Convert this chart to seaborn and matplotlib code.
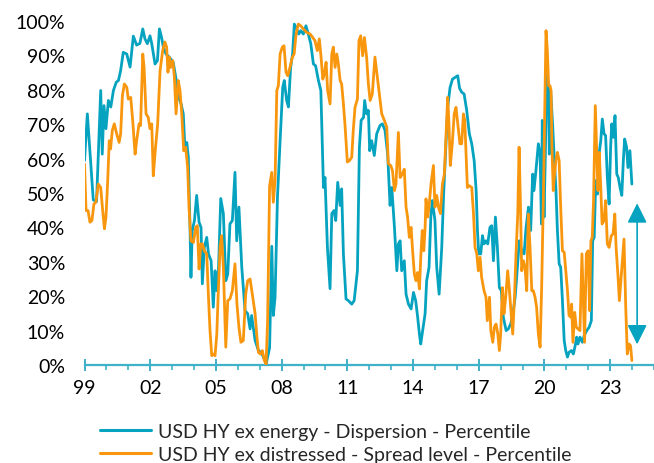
import numpy as np
import pandas as pd
import matplotlib
matplotlib.use('Agg')
import matplotlib.pyplot as plt
import seaborn as sns
from matplotlib.lines import Line2D
from matplotlib.ticker import FixedLocator, FuncFormatter

## Du lieu doc tu hinh (nam thap phan, phan tram)
disp_year = [1999.00, 1999.13, 1999.40, 1999.55, 1999.74, 1999.81, 1999.89, 1999.98, 2000.09, 2000.20,
             2000.32, 2000.45, 2000.55, 2000.65, 2000.77, 2000.93, 2001.08, 2001.23, 2001.38, 2001.53,
             2001.66, 2001.76, 2001.87, 2001.99, 2002.07, 2002.22, 2002.33, 2002.42, 2002.52, 2002.60,
             2002.72, 2002.87, 2003.05, 2003.21, 2003.30, 2003.41, 2003.51, 2003.59, 2003.67, 2003.74,
             2003.82, 2003.86, 2003.92, 2004.02, 2004.12, 2004.23, 2004.32, 2004.38, 2004.47, 2004.58,
             2004.66, 2004.78, 2004.88, 2004.96, 2005.03, 2005.11, 2005.22, 2005.34, 2005.45, 2005.54,
             2005.64, 2005.75, 2005.87, 2005.95, 2006.05, 2006.18, 2006.33, 2006.45, 2006.56, 2006.63,
             2006.79, 2006.94, 2007.06, 2007.17, 2007.30, 2007.45, 2007.55, 2007.62, 2007.70, 2007.81,
             2007.93, 2008.05, 2008.12, 2008.23, 2008.31, 2008.41, 2008.50, 2008.58, 2008.69, 2008.78,
             2008.87, 2008.99, 2009.11, 2009.22, 2009.33, 2009.45, 2009.55, 2009.68, 2009.79, 2009.91,
             2009.98, 2010.09, 2010.21, 2010.29, 2010.39, 2010.47, 2010.56, 2010.67, 2010.74, 2010.82,
             2010.94, 2011.05, 2011.20, 2011.31, 2011.46, 2011.55, 2011.63, 2011.74, 2011.79, 2011.88,
             2011.96, 2012.02, 2012.11, 2012.23, 2012.34, 2012.49, 2012.60, 2012.72, 2012.84, 2012.95,
             2013.03, 2013.15, 2013.26, 2013.33, 2013.41, 2013.48, 2013.60, 2013.68, 2013.79, 2013.91,
             2014.02, 2014.12, 2014.21, 2014.29, 2014.35, 2014.44, 2014.55, 2014.62, 2014.73, 2014.81,
             2014.88, 2015.00, 2015.08, 2015.19, 2015.31, 2015.39, 2015.46, 2015.58, 2015.69, 2015.80,
             2015.92, 2016.04, 2016.12, 2016.22, 2016.33, 2016.45, 2016.57, 2016.68, 2016.79, 2016.88,
             2016.94, 2017.00, 2017.09, 2017.17, 2017.24, 2017.33, 2017.41, 2017.51, 2017.59, 2017.67,
             2017.76, 2017.85, 2017.94, 2018.03, 2018.12, 2018.25, 2018.35, 2018.46, 2018.55, 2018.66,
             2018.73, 2018.85, 2018.96, 2019.07, 2019.16, 2019.27, 2019.37, 2019.46, 2019.52, 2019.61,
             2019.72, 2019.80, 2019.86, 2019.90, 2019.98, 2020.04, 2020.10, 2020.18, 2020.22, 2020.28,
             2020.37, 2020.45, 2020.52, 2020.59, 2020.67, 2020.74, 2020.82, 2020.90, 2020.97, 2021.05,
             2021.12, 2021.23, 2021.32, 2021.40, 2021.47, 2021.53, 2021.62, 2021.73, 2021.81, 2021.93,
             2022.04, 2022.14, 2022.20, 2022.27, 2022.34, 2022.42, 2022.49, 2022.57, 2022.64, 2022.72,
             2022.79, 2022.87, 2022.95, 2023.02, 2023.07, 2023.15, 2023.22, 2023.30, 2023.37, 2023.45,
             2023.53, 2023.60, 2023.66, 2023.75, 2023.81, 2023.90, 2023.99]
disp_pct = [59.4, 73.0, 48.0, 47.5, 79.8, 61.3, 75.4, 68.7, 76.9, 75.0,
            79.8, 82.2, 82.7, 85.6, 90.9, 90.4, 86.6, 95.6, 93.0, 93.5,
            97.7, 94.8, 93.4, 95.7, 93.4, 87.5, 88.5, 97.7, 95.2, 92.4,
            90.4, 89.5, 88.0, 82.0, 77.8, 75.9, 73.0, 62.3, 64.7, 60.4,
            39.1, 25.5, 39.1, 42.0, 49.3, 41.5, 40.0, 23.6, 34.2, 37.1,
            32.3, 30.3, 16.8, 27.4, 21.6, 26.4, 48.4, 44.0, 24.5, 26.4,
            41.0, 42.0, 56.0, 36.1, 45.9, 28.4, 15.8, 14.9, 10.5, 14.4,
            7.1, 4.2, 3.7, 2.3, 0.5, 5.0, 34.5, 14.4, 19.7, 48.8,
            65.2, 80.7, 82.7, 76.9, 75.0, 86.5, 90.4, 99.1, 97.7, 96.2,
            97.2, 96.2, 98.6, 96.2, 93.4, 87.5, 87.0, 82.7, 79.8, 51.6,
            54.5, 34.2, 22.2, 44.0, 44.9, 42.0, 53.1, 46.4, 51.2, 32.3,
            19.2, 18.7, 17.7, 18.7, 27.4, 63.3, 71.1, 72.0, 76.9, 73.0,
            74.0, 62.3, 65.2, 60.9, 67.2, 69.6, 70.1, 68.2, 61.3, 46.4,
            51.6, 40.0, 27.4, 35.2, 36.1, 27.4, 30.3, 20.6, 17.7, 16.3,
            21.1, 18.7, 13.9, 9.0, 6.1, 10.0, 14.9, 24.5, 28.4, 43.0,
            47.8, 42.0, 28.4, 20.6, 34.2, 48.8, 58.5, 74.9, 80.7, 83.1,
            83.6, 84.1, 80.5, 79.3, 78.8, 74.0, 67.2, 64.3, 59.4, 50.7,
            39.1, 32.3, 32.3, 37.6, 35.2, 36.1, 35.2, 40.0, 40.5, 30.3,
            43.0, 34.2, 22.5, 21.6, 13.9, 10.0, 10.5, 12.0, 14.4, 19.7,
            25.5, 36.1, 33.2, 32.3, 40.0, 45.9, 39.1, 55.5, 50.7, 56.5,
            64.3, 61.3, 41.0, 71.1, 43.0, 61.3, 84.6, 81.7, 61.3, 79.8,
            70.1, 59.4, 51.6, 39.1, 29.4, 28.4, 18.7, 7.1, 4.2, 2.3,
            3.7, 4.2, 3.2, 5.6, 8.1, 6.1, 8.1, 6.6, 8.5, 10.0,
            11.0, 12.9, 36.1, 37.1, 53.6, 49.7, 61.3, 65.2, 71.5, 67.2,
            66.7, 54.5, 46.8, 63.3, 70.1, 66.2, 72.5, 55.5, 54.5, 51.6,
            49.3, 59.4, 65.7, 63.3, 57.4, 62.3, 52.6]

spread_year = [1999.00, 1999.07, 1999.16, 1999.25, 1999.34, 1999.43, 1999.52, 1999.63, 1999.74, 1999.83,
               1999.91, 1999.98, 2000.06, 2000.13, 2000.19, 2000.27, 2000.36, 2000.47, 2000.58, 2000.65,
               2000.73, 2000.82, 2000.93, 2001.00, 2001.11, 2001.20, 2001.31, 2001.38, 2001.49, 2001.56,
               2001.66, 2001.72, 2001.81, 2001.91, 2001.99, 2002.07, 2002.14, 2002.23, 2002.34, 2002.45,
               2002.57, 2002.67, 2002.75, 2002.81, 2002.87, 2002.93, 2003.03, 2003.10, 2003.18, 2003.28,
               2003.36, 2003.44, 2003.53, 2003.62, 2003.71, 2003.77, 2003.86, 2003.97, 2004.08, 2004.15,
               2004.23, 2004.31, 2004.38, 2004.47, 2004.58, 2004.66, 2004.73, 2004.81, 2004.88, 2004.96,
               2005.04, 2005.11, 2005.19, 2005.26, 2005.34, 2005.45, 2005.54, 2005.64, 2005.75, 2005.87,
               2005.96, 2006.05, 2006.14, 2006.25, 2006.36, 2006.45, 2006.56, 2006.66, 2006.79, 2006.86,
               2006.94, 2007.03, 2007.12, 2007.21, 2007.29, 2007.36, 2007.45, 2007.55, 2007.62, 2007.70,
               2007.78, 2007.85, 2007.93, 2008.03, 2008.11, 2008.20, 2008.28, 2008.38, 2008.49, 2008.57,
               2008.66, 2008.76, 2008.87, 2008.99, 2009.14, 2009.30, 2009.42, 2009.52, 2009.63, 2009.72,
               2009.80, 2009.88, 2009.95, 2010.03, 2010.10, 2010.21, 2010.29, 2010.36, 2010.44, 2010.52,
               2010.59, 2010.67, 2010.74, 2010.82, 2010.89, 2011.00, 2011.09, 2011.20, 2011.27, 2011.35,
               2011.46, 2011.53, 2011.61, 2011.70, 2011.78, 2011.88, 2011.96, 2012.04, 2012.14, 2012.26,
               2012.37, 2012.46, 2012.57, 2012.69, 2012.80, 2012.87, 2012.98, 2013.06, 2013.15, 2013.22,
               2013.33, 2013.41, 2013.51, 2013.60, 2013.68, 2013.75, 2013.83, 2013.91, 2013.98, 2014.06,
               2014.13, 2014.21, 2014.29, 2014.36, 2014.42, 2014.49, 2014.55, 2014.59, 2014.67, 2014.74,
               2014.82, 2014.93, 2015.00, 2015.08, 2015.16, 2015.25, 2015.34, 2015.43, 2015.52, 2015.58,
               2015.64, 2015.70, 2015.79, 2015.88, 2015.96, 2016.04, 2016.14, 2016.22, 2016.30, 2016.36,
               2016.42, 2016.48, 2016.57, 2016.68, 2016.76, 2016.83, 2016.91, 2016.98, 2017.06, 2017.13,
               2017.24, 2017.33, 2017.39, 2017.49, 2017.55, 2017.64, 2017.71, 2017.79, 2017.87, 2017.94,
               2018.00, 2018.08, 2018.15, 2018.23, 2018.32, 2018.40, 2018.47, 2018.55, 2018.63, 2018.70,
               2018.78, 2018.84, 2018.90, 2018.96, 2019.04, 2019.11, 2019.19, 2019.26, 2019.34, 2019.42,
               2019.49, 2019.57, 2019.64, 2019.72, 2019.80, 2019.87, 2019.95, 2020.01, 2020.07, 2020.13,
               2020.19, 2020.25, 2020.30, 2020.34, 2020.40, 2020.46, 2020.53, 2020.59, 2020.67, 2020.74,
               2020.82, 2020.90, 2020.97, 2021.05, 2021.12, 2021.20, 2021.24, 2021.30, 2021.38, 2021.45,
               2021.53, 2021.62, 2021.71, 2021.77, 2021.83, 2021.91, 2021.99, 2022.06, 2022.12, 2022.18,
               2022.24, 2022.32, 2022.38, 2022.44, 2022.50, 2022.57, 2022.63, 2022.72, 2022.79, 2022.87,
               2022.95, 2023.05, 2023.13, 2023.21, 2023.27, 2023.36, 2023.42, 2023.51, 2023.63, 2023.71,
               2023.78, 2023.86, 2023.93, 2023.99]
spread_pct = [58.4, 44.9, 44.9, 41.5, 42.0, 46.8, 47.3, 52.6, 51.6, 44.9,
              39.6, 43.0, 53.6, 65.2, 62.8, 68.2, 70.1, 67.2, 64.7, 67.2,
              78.3, 81.7, 80.7, 77.3, 77.8, 71.1, 61.3, 65.2, 70.1, 69.6,
              90.4, 86.5, 73.0, 72.0, 68.7, 70.1, 55.0, 62.3, 70.1, 85.6,
              91.4, 93.9, 92.4, 85.1, 89.5, 86.5, 88.5, 84.0, 73.0, 82.7,
              79.8, 73.0, 62.3, 63.3, 57.4, 45.9, 36.1, 35.6, 40.0, 40.5,
              27.9, 35.2, 35.2, 33.2, 32.3, 19.7, 10.0, 2.7, 3.2, 2.7,
              9.0, 21.6, 34.2, 37.6, 28.4, 5.2, 18.7, 19.2, 21.6, 29.4,
              17.7, 11.0, 6.6, 7.1, 20.6, 24.5, 25.0, 20.6, 14.9, 9.0,
              3.7, 3.2, 4.2, 1.3, 0.3, 12.9, 52.0, 56.0, 47.3, 53.6,
              79.8, 81.2, 90.4, 92.4, 92.8, 85.1, 84.1, 86.5, 89.5, 90.4,
              96.2, 99.1, 98.6, 97.7, 96.7, 96.2, 95.2, 94.3, 91.4, 94.8,
              89.5, 83.1, 84.6, 88.0, 79.8, 75.9, 90.4, 92.4, 86.5, 90.4,
              87.5, 82.7, 81.7, 75.9, 70.1, 59.0, 59.4, 60.4, 68.2, 74.9,
              77.3, 94.3, 95.7, 89.9, 95.2, 89.5, 81.7, 76.9, 78.8, 89.5,
              83.6, 78.8, 73.0, 71.1, 69.1, 58.5, 58.0, 56.5, 50.7, 52.6,
              67.6, 54.5, 55.5, 56.9, 45.9, 43.0, 37.1, 40.0, 33.2, 26.4,
              24.5, 26.9, 22.1, 32.3, 39.1, 33.2, 40.0, 48.3, 43.0, 46.8,
              52.6, 58.0, 45.9, 49.3, 45.9, 44.0, 52.6, 55.5, 69.1, 77.8,
              70.1, 58.0, 64.3, 73.0, 74.9, 70.1, 64.3, 64.3, 73.0, 71.1,
              61.3, 51.6, 52.1, 51.6, 43.9, 34.2, 32.3, 27.4, 31.3, 25.5,
              21.6, 19.7, 12.9, 19.7, 10.0, 6.6, 11.0, 11.9, 9.0, 4.2,
              9.0, 22.5, 14.9, 19.7, 27.4, 21.6, 15.8, 9.0, 19.7, 32.3,
              43.9, 63.3, 47.8, 27.4, 30.3, 28.4, 21.6, 43.9, 34.2, 21.6,
              21.6, 19.7, 16.8, 9.0, 5.2, 22.5, 48.8, 73.0, 97.2, 91.4,
              81.2, 81.2, 79.8, 63.3, 50.7, 55.5, 60.0, 61.8, 59.4, 45.9,
              33.2, 32.8, 27.4, 21.6, 14.4, 13.9, 17.7, 6.6, 15.3, 11.0,
              10.5, 10.0, 32.3, 19.7, 6.6, 32.3, 33.2, 15.8, 36.1, 37.1,
              47.8, 75.4, 63.3, 50.7, 61.8, 51.6, 41.0, 42.0, 47.8, 35.2,
              34.2, 37.6, 38.1, 43.9, 34.2, 25.5, 18.7, 26.4, 36.6, 16.8,
              3.2, 6.1, 5.6, 1.3]

tick_years  = [1999, 2002, 2005, 2008, 2011, 2014, 2017, 2020, 2023]
tick_labels = ['99', '02', '05', '08', '11', '14', '17', '20', '23']
minor_years = list(range(1999, 2026))
y_ticks     = [0, 10, 20, 30, 40, 50, 60, 70, 80, 90, 100]

## mui ten hai dau
arrow_year   = 2024.23
arrow_top    = 47
arrow_bottom = 6

label_disp   = 'USD HY ex energy - Dispersion - Percentile'
label_spread = 'USD HY ex distressed - Spread level - Percentile'

teal   = '#05a3bf'
orange = '#f8960e'
axis_c = '#3fb1c8'

df = pd.concat([
    pd.DataFrame({'year': disp_year, 'pct': disp_pct, 'series': label_disp}),
    pd.DataFrame({'year': spread_year, 'pct': spread_pct, 'series': label_spread}),
], ignore_index=True)

sns.set_style('white')
plt.rcParams['font.family'] = ['Lato', 'DejaVu Sans']

fig = plt.figure(figsize=(6.54, 4.64), dpi=100)
ax  = fig.add_axes([84.5 / 654, 98 / 464, 1 - 84.5 / 654, 344 / 464])

sns.lineplot(data=df, x='year', y='pct', hue='series', palette=[teal, orange],
             estimator=None, sort=False, linewidth=2.0, legend=False, ax=ax)

ax.set_xlim(1999, 2025)
ax.set_ylim(0, 100)
ax.set_xlabel('')
ax.set_ylabel('')

ax.xaxis.set_major_locator(FixedLocator(tick_years))
ax.set_xticklabels(tick_labels)
ax.xaxis.set_minor_locator(FixedLocator(minor_years))
ax.set_yticks(y_ticks)
ax.yaxis.set_major_formatter(FuncFormatter(lambda v, p: f'{v:.0f}%'))

for s in ['top', 'right', 'left']:
    ax.spines[s].set_visible(False)
ax.spines['bottom'].set_color(axis_c)
ax.spines['bottom'].set_linewidth(1.6)
ax.spines['bottom'].set_zorder(1)

ax.tick_params(axis='y', left=False, length=0, pad=14, labelsize=14, labelcolor='black')
ax.tick_params(axis='x', which='major', bottom=True, direction='inout', length=8, width=1.4,
               color=axis_c, pad=6, labelsize=14, labelcolor='black')
ax.tick_params(axis='x', which='minor', bottom=True, direction='out', length=3.5, width=1.2,
               color=axis_c)

ax.annotate('', xy=(arrow_year, arrow_bottom), xytext=(arrow_year, arrow_top),
            arrowprops=dict(arrowstyle='<|-|>,head_length=0.6,head_width=0.3',
                            color=teal, lw=1.2, shrinkA=0, shrinkB=0,
                            mutation_scale=20))

handles = [Line2D([], [], color=teal, lw=2.2), Line2D([], [], color=orange, lw=2.2)]
fig.legend(handles, [label_disp, label_spread], loc='upper left',
           bbox_to_anchor=(100 / 654, 1 - 424 / 464), frameon=False, fontsize=14,
           handlelength=2.6, handletextpad=0.4, labelspacing=0.3,
           borderpad=0, borderaxespad=0)

fig.savefig('out.png', dpi=100)
